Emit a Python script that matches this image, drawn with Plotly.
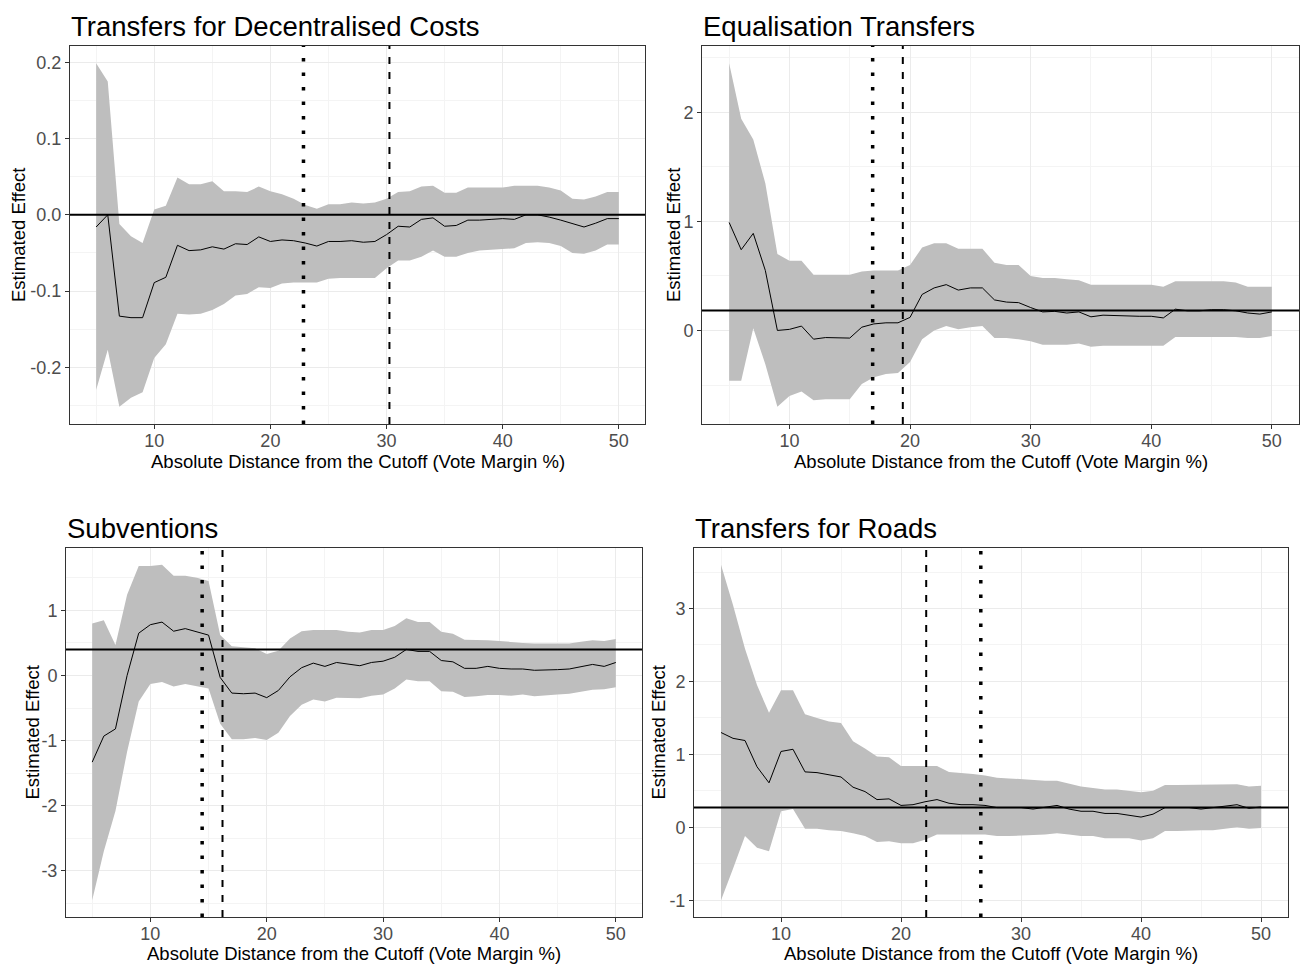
import plotly.graph_objects as go

W, H = 1303, 964

X = list(range(5, 51))

TITLES = ["Transfers for Decentralised Costs", "Equalisation Transfers",
          "Subventions", "Transfers for Roads"]
X_TITLE = "Absolute Distance from the Cutoff (Vote Margin %)"
Y_TITLE = "Estimated Effect"
X_TICKS = [10, 20, 30, 40, 50]
X_TICKTEXT = ["10", "20", "30", "40", "50"]

# ---- Panel 1: Transfers for Decentralised Costs
est1 = [-0.016, 0.0, -0.133, -0.135, -0.135,
        -0.089, -0.082, -0.040, -0.047, -0.046, -0.042, -0.045, -0.038, -0.039, -0.029,
        -0.035, -0.033, -0.034, -0.037, -0.041, -0.035, -0.035, -0.034, -0.036, -0.035,
        -0.026, -0.015, -0.016, -0.006, -0.004, -0.015, -0.014, -0.007, -0.007, -0.006,
        -0.005, -0.006, 0.0, 0.0, -0.003, -0.007, -0.012, -0.016, -0.011, -0.005, -0.005]
up1 = [0.199, 0.175, -0.012, -0.028, -0.037,
       0.007, 0.012, 0.049, 0.040, 0.040, 0.044, 0.031, 0.031, 0.030, 0.037,
       0.031, 0.027, 0.021, 0.013, 0.008, 0.014, 0.014, 0.016, 0.015, 0.016,
       0.021, 0.030, 0.031, 0.037, 0.038, 0.029, 0.029, 0.036, 0.036, 0.036,
       0.036, 0.038, 0.038, 0.038, 0.036, 0.032, 0.021, 0.020, 0.024, 0.030, 0.030]
lo1 = [-0.230, -0.177, -0.252, -0.240, -0.233,
       -0.188, -0.170, -0.130, -0.131, -0.130, -0.125, -0.117, -0.106, -0.104, -0.095,
       -0.096, -0.090, -0.089, -0.089, -0.089, -0.084, -0.083, -0.083, -0.083, -0.083,
       -0.070, -0.060, -0.060, -0.055, -0.047, -0.055, -0.055, -0.050, -0.047, -0.046,
       -0.045, -0.044, -0.037, -0.036, -0.037, -0.041, -0.050, -0.051, -0.047, -0.039, -0.039]
yt1 = [0.2, 0.1, 0.0, -0.1, -0.2]
yl1 = ["0.2", "0.1", "0.0", "-0.1", "-0.2"]

# ---- Panel 2: Equalisation Transfers
est2 = [0.99, 0.74, 0.89, 0.55, 0.0,
        0.01, 0.04, -0.08, -0.065, -0.065, -0.07, 0.03, 0.06, 0.07, 0.07,
        0.12, 0.33, 0.39, 0.42, 0.37, 0.39, 0.39, 0.28, 0.26, 0.255,
        0.21, 0.17, 0.175, 0.16, 0.17, 0.125, 0.14, 0.135, 0.135, 0.13,
        0.13, 0.115, 0.195, 0.18, 0.18, 0.19, 0.19, 0.18, 0.16, 0.15, 0.17]
up2 = [2.45, 1.94, 1.75, 1.35, 0.70,
       0.64, 0.64, 0.51, 0.51, 0.51, 0.51, 0.54, 0.55, 0.55, 0.55,
       0.60, 0.76, 0.80, 0.80, 0.75, 0.75, 0.75, 0.62, 0.60, 0.60,
       0.50, 0.48, 0.48, 0.47, 0.46, 0.42, 0.42, 0.42, 0.42, 0.42,
       0.42, 0.40, 0.45, 0.45, 0.45, 0.45, 0.45, 0.44, 0.40, 0.40, 0.40]
lo2 = [-0.46, -0.46, 0.02, -0.31, -0.70,
       -0.60, -0.56, -0.64, -0.63, -0.63, -0.63, -0.49, -0.43, -0.40, -0.39,
       -0.29, -0.08, 0.00, 0.04, 0.01, 0.03, 0.04, -0.07, -0.07, -0.08,
       -0.10, -0.13, -0.13, -0.13, -0.12, -0.15, -0.14, -0.14, -0.14, -0.14,
       -0.14, -0.14, -0.06, -0.06, -0.06, -0.06, -0.06, -0.06, -0.07, -0.07, -0.05]
yt2 = [2, 1, 0]
yl2 = ["2", "1", "0"]

# ---- Panel 3: Subventions
est3 = [-1.33, -0.93, -0.82, 0.0, 0.65,
        0.78, 0.82, 0.68, 0.72, 0.67, 0.62, -0.03, -0.27, -0.28, -0.27,
        -0.34, -0.23, -0.02, 0.12, 0.19, 0.14, 0.20, 0.18, 0.15, 0.20,
        0.22, 0.28, 0.40, 0.37, 0.37, 0.23, 0.21, 0.11, 0.11, 0.14,
        0.11, 0.10, 0.10, 0.08, 0.08, 0.09, 0.10, 0.14, 0.17, 0.14, 0.20]
up3 = [0.80, 0.85, 0.47, 1.24, 1.68,
       1.68, 1.70, 1.53, 1.53, 1.50, 1.45, 0.62, 0.45, 0.43, 0.42,
       0.33, 0.38, 0.57, 0.68, 0.70, 0.70, 0.70, 0.67, 0.66, 0.70,
       0.70, 0.76, 0.88, 0.82, 0.82, 0.67, 0.64, 0.55, 0.55, 0.54,
       0.53, 0.51, 0.50, 0.49, 0.49, 0.49, 0.49, 0.52, 0.54, 0.53, 0.56]
lo3 = [-3.45, -2.70, -2.08, -1.17, -0.40,
       -0.13, -0.10, -0.17, -0.13, -0.16, -0.20, -0.74, -0.98, -0.98, -0.96,
       -0.99, -0.88, -0.62, -0.45, -0.37, -0.40, -0.34, -0.34, -0.35, -0.31,
       -0.29, -0.20, -0.06, -0.09, -0.09, -0.24, -0.25, -0.33, -0.32, -0.30,
       -0.30, -0.31, -0.29, -0.32, -0.31, -0.29, -0.28, -0.25, -0.22, -0.21, -0.18]
yt3 = [1, 0, -1, -2, -3]
yl3 = ["1", "0", "-1", "-2", "-3"]

# ---- Panel 4: Transfers for Roads
est4 = [1.30, 1.22, 1.19, 0.83, 0.61,
        1.04, 1.07, 0.76, 0.75, 0.72, 0.69, 0.55, 0.49, 0.38, 0.39,
        0.30, 0.31, 0.35, 0.38, 0.33, 0.31, 0.31, 0.30, 0.27, 0.27,
        0.27, 0.25, 0.27, 0.30, 0.25, 0.22, 0.22, 0.19, 0.19, 0.17,
        0.14, 0.18, 0.27, 0.27, 0.27, 0.25, 0.27, 0.28, 0.31, 0.26, 0.28]
up4 = [3.60, 3.05, 2.45, 1.95, 1.57,
       1.88, 1.88, 1.55, 1.50, 1.45, 1.43, 1.18, 1.08, 0.97, 0.96,
       0.84, 0.84, 0.84, 0.84, 0.76, 0.75, 0.73, 0.71, 0.68, 0.67,
       0.66, 0.64, 0.64, 0.64, 0.60, 0.56, 0.54, 0.52, 0.52, 0.50,
       0.48, 0.50, 0.58, 0.58, 0.58, 0.58, 0.58, 0.59, 0.59, 0.56, 0.57]
lo4 = [-1.00, -0.57, -0.12, -0.28, -0.33,
       0.22, 0.25, -0.02, -0.02, -0.04, -0.05, -0.08, -0.12, -0.20, -0.19,
       -0.22, -0.22, -0.17, -0.10, -0.10, -0.10, -0.10, -0.10, -0.12, -0.12,
       -0.12, -0.11, -0.10, -0.08, -0.10, -0.12, -0.12, -0.15, -0.15, -0.15,
       -0.18, -0.15, -0.05, -0.05, -0.05, -0.04, -0.04, -0.02, 0.00, -0.02, -0.01]
yt4 = [3, 2, 1, 0, -1]
yl4 = ["3", "2", "1", "0", "-1"]

# reference lines
HLINE = [0.0, 0.183, 0.40, 0.272]
DOTTED = [22.85, 16.9, 14.45, 26.65]
DASHED = [30.25, 19.4, 16.2, 22.1]
Y_MINOR = [0.05, 0.5, 0.5, 0.5]

ESTS = [est1, est2, est3, est4]
UPS = [up1, up2, up3, up4]
LOS = [lo1, lo2, lo3, lo4]
YTICKS = [yt1, yt2, yt3, yt4]
YLABELS = [yl1, yl2, yl3, yl4]

# ---- layout geometry (pixels)
PANELS = [  # x0, x1, y_top, y_bottom
    (70, 645, 46, 424),
    (702, 1299, 46, 424),
    (66, 642, 548, 917),
    (694, 1288, 548, 917),
]
YTITLE_X = [18, 673, 32, 658]
TITLE_Y = [26, 26, 528, 528]
XTITLE_Y = [461, 461, 953, 953]

FONT = "Liberation Sans, Arial, Helvetica, sans-serif"

def px(x):
    return x / W

def py(y):
    return 1 - y / H

fig = go.Figure()
annotations = []
shapes = []

for i in range(4):
    n = "" if i == 0 else str(i + 1)
    xa, ya = "x" + n, "y" + n
    x0, x1, yt, yb = PANELS[i]

    lo, up, est = LOS[i], UPS[i], ESTS[i]
    fig.add_trace(go.Scatter(
        x=X + X[::-1], y=up + lo[::-1], fill="toself", fillcolor="#BEBEBE",
        line=dict(width=0), mode="lines", hoverinfo="skip",
        xaxis=xa, yaxis=ya, showlegend=False))
    fig.add_trace(go.Scatter(
        x=X, y=est, mode="lines", line=dict(color="#000000", width=1),
        xaxis=xa, yaxis=ya, showlegend=False))

    ymin, ymax = min(lo), max(up)
    span = ymax - ymin
    xspan = X[-1] - X[0]

    axis_common = dict(
        showline=True, mirror=True, linecolor="#333333", linewidth=1,
        ticks="outside", ticklen=4, tickwidth=1, tickcolor="#333333",
        tickfont=dict(family=FONT, size=18, color="#4D4D4D"),
        showgrid=True, gridcolor="#EBEBEB", gridwidth=1, zeroline=False,
    )
    fig.update_layout({
        ("xaxis" + n): dict(
            axis_common, domain=[px(x0), px(x1)], anchor=ya,
            range=[X[0] - 0.05 * xspan, X[-1] + 0.05 * xspan],
            tickmode="array", tickvals=X_TICKS, ticktext=X_TICKTEXT,
            ticklabelstandoff=-4,
            minor=dict(tickmode="linear", tick0=0, dtick=5, showgrid=True,
                       gridcolor="#F4F4F4", gridwidth=1, ticks=""),
        ),
        ("yaxis" + n): dict(
            axis_common, domain=[py(yb), py(yt)], anchor=xa,
            range=[ymin - 0.05 * span, ymax + 0.05 * span],
            tickmode="array", tickvals=YTICKS[i], ticktext=YLABELS[i],
            minor=dict(tickmode="linear", tick0=0, dtick=Y_MINOR[i], showgrid=True,
                       gridcolor="#F4F4F4", gridwidth=1, ticks=""),
        ),
    })

    # reference lines
    shapes.append(dict(type="line", xref=xa + " domain", yref=ya, x0=0, x1=1,
                       y0=HLINE[i], y1=HLINE[i], layer="above",
                       line=dict(color="#000000", width=2)))
    shapes.append(dict(type="line", xref=xa, yref=ya + " domain", x0=DOTTED[i], x1=DOTTED[i],
                       y0=0, y1=1, layer="above",
                       line=dict(color="#000000", width=3.5, dash="3.5px,11px")))
    shapes.append(dict(type="line", xref=xa, yref=ya + " domain", x0=DASHED[i], x1=DASHED[i],
                       y0=0, y1=1, layer="above",
                       line=dict(color="#000000", width=2, dash="7px,8px")))

    # texts
    annotations.append(dict(text=TITLES[i], xref="paper", yref="paper",
                            x=px(x0 - 1), y=py(TITLE_Y[i]), xanchor="left", yanchor="middle",
                            showarrow=False, font=dict(family=FONT, size=27.5, color="#000000")))
    annotations.append(dict(text=X_TITLE, xref="paper", yref="paper",
                            x=px((x0 + x1) / 2), y=py(XTITLE_Y[i]), xanchor="center",
                            yanchor="middle", showarrow=False,
                            font=dict(family=FONT, size=18.5, color="#000000")))
    annotations.append(dict(text=Y_TITLE, xref="paper", yref="paper", textangle=-90,
                            x=px(YTITLE_X[i]), y=py((yt + yb) / 2), xanchor="center",
                            yanchor="middle", showarrow=False,
                            font=dict(family=FONT, size=18.5, color="#000000")))

fig.update_layout(
    width=W, height=H, margin=dict(l=0, r=0, t=0, b=0),
    paper_bgcolor="#FFFFFF", plot_bgcolor="#FFFFFF",
    font=dict(family=FONT), showlegend=False,
    annotations=annotations, shapes=shapes,
)

fig.write_html("out.html", config={"displayModeBar": False},
               post_script="document.body.style.margin='0';document.body.style.overflow='hidden';")
